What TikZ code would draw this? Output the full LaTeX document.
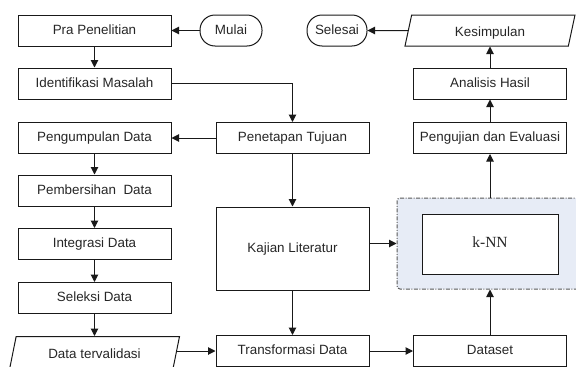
\documentclass[tikz,border=0pt]{standalone}
\usepackage{fontspec}
\setmainfont{Liberation Sans}
\newfontfamily\knnfont{Liberation Serif}
\usepackage{color}
\definecolor{knnbg}{RGB}{231,236,246}
\usetikzlibrary{math,arrows.meta,shapes.geometric}

\begin{document}
\begin{tikzpicture}[x=1pt,y=-1pt,line width=1pt,
    box/.style={draw=black!90,minimum width=153pt,minimum height=31pt,inner sep=0pt,
      text height=9.5pt,text depth=2.5pt,
      font=\fontsize{13.4}{15}\selectfont,text=black!85},
    io/.style={box,trapezium,trapezium left angle=61,trapezium right angle=119,
      trapezium stretches body,minimum width=170pt},
    term/.style={box,rounded corners=15pt,minimum width=62pt},
    arr/.style={draw=black!90,-{Triangle[length=7.5pt,width=7.5pt]}}]
      \useasboundingbox(0,0)rectangle(576,367);
      \begin{scope}\clip(0,0)rectangle(576,367);
      \tikzmath{\xa=94.5; \xb=292.5; \xc=490; \yb=351;}
      
      \node[box](pra) at (\xa,30.5){Pra Penelitian};
      \node[term](mulai) at (231,30.5){Mulai};
      \node[box](ident) at (\xa,83.5){Identifikasi Masalah};
      \node[box](kumpul) at (\xa,138){Pengumpulan Data};
      \node[box](bersih) at (\xa,190.5){Pembersihan\ \ Data};
      \node[box](integrasi) at (\xa,244){Integrasi Data};
      \node[box](seleksi) at (\xa,298){Seleksi Data};
      \node[io,minimum height=33pt](valid) at (\xa,\yb+2){\raisebox{-2pt}{Data tervalidasi}};
      
      \node[box](tujuan) at (\xb,138){Penetapan Tujuan};
      \node[box,minimum height=83pt](kajian) at (\xb,248.5){Kajian Literatur};
      \node[box](transform) at (\xb,\yb){Transformasi Data};
      
      \node[term,minimum width=60pt](selesai) at (337,30.5){Selesai};
      \node[io](simpul) at (\xc,30.5){\raisebox{-2pt}{Kesimpulan}};
      \node[box](analisis) at (\xc,83.5){Analisis Hasil};
      \node[box](uji) at (\xc,138){Pengujian dan Evaluasi};
      \node[draw=black!65,dash pattern=on 4pt off 1.5pt on 1pt off 1.5pt,fill=knnbg,
        rounded corners=3pt,minimum width=186pt,minimum height=91pt](frame) at (\xc,243.5){};
      \node[box,fill=white,minimum width=136pt,minimum height=60pt,
        font=\knnfont\fontsize{15.5}{18}\selectfont](knn) at (\xc,244){k-NN};
      \node[box](dataset) at (\xc,\yb){Dataset};
      
      \draw[arr](mulai)--(pra);
      \draw[arr](pra)--(ident);
      \draw[arr](ident.east)-|(tujuan.north);
      \draw[arr](tujuan)--(kumpul);
      \draw[arr](tujuan)--(kajian);
      \draw[arr](kumpul)--(bersih);
      \draw[arr](bersih)--(integrasi);
      \draw[arr](integrasi)--(seleksi);
      \draw[arr](seleksi)--(valid);
      \draw[arr](valid.east|-transform.west)--(transform.west);
      \draw[arr](kajian)--(transform);
      \draw[arr](kajian.east|-frame.west)--(frame.west);
      \draw[arr](transform)--(dataset);
      \draw[arr](dataset)--(frame.south);
      \draw[arr](frame.north)--(uji);
      \draw[arr](uji)--(analisis);
      \draw[arr](analisis)--(simpul);
      \draw[arr](simpul)--(selesai);
      \end{scope}
    \end{tikzpicture}
\end{document}
